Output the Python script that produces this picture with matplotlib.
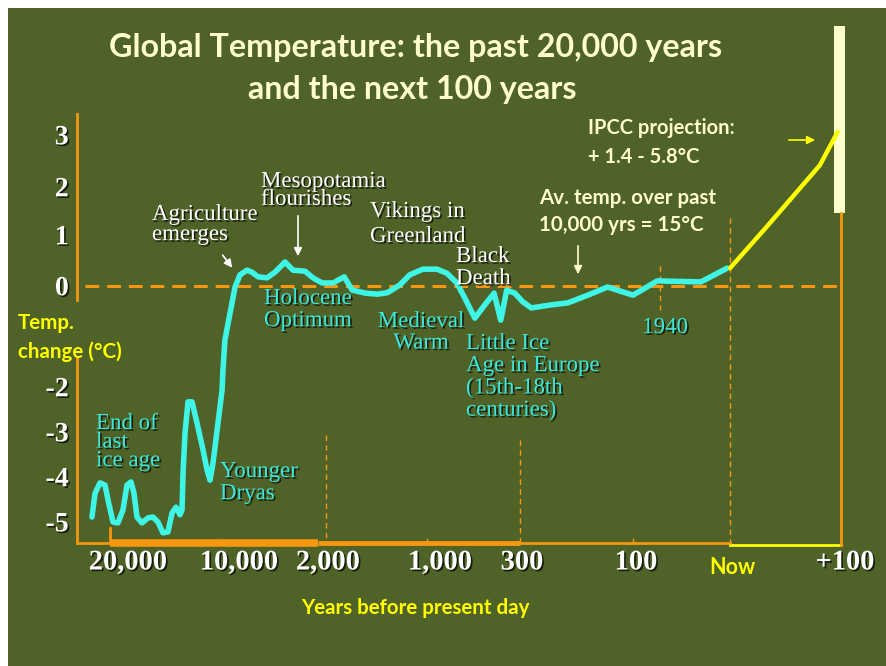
import numpy as np
import matplotlib
matplotlib.use('Agg')
import matplotlib.pyplot as plt
import matplotlib.patheffects as pe
from matplotlib.transforms import Affine2D
from matplotlib.patches import Rectangle

# reconstructed temperature curve: years before present, change in deg C
ice_years = [21640, 21360, 20910, 20450, 20180, 19730, 19280, 18830, 18470, 18110,
             17840, 17570, 17120, 16580, 16130, 15680, 15230, 14780, 14410, 14050,
             13690, 13510, 13420, 13240, 12970, 12610, 12160, 11620, 11260, 10990,
             10720, 10270, 9920, 9850, 9700, 9310, 8930, 8550, 8020, 7640,
             7180, 6500, 5890, 5120, 4510, 3600, 2990, 2300, 1930, 1820,
             1740, 1610, 1490, 1390, 1270, 1170, 1040, 925, 850, 775,
             715, 640, 565, 495, 445, 400, 340, 295, 280, 245,
             215, 180, 145, 100, 75, 30, 3]
ice_temp = [-4.89, -4.36, -4.13, -4.18, -4.51, -5.00, -5.02, -4.73, -4.18, -4.11,
            -4.36, -4.89, -5.02, -4.91, -4.89, -5.00, -5.24, -5.22, -4.80, -4.67,
            -4.84, -4.73, -3.91, -3.02, -2.33, -2.33, -2.80, -3.40, -3.84, -4.07,
            -3.69, -2.80, -2.07, -1.66, -1.06, -0.53, -0.02, 0.22, 0.31, 0.27,
            0.18, 0.16, 0.27, 0.47, 0.31, 0.29, 0.16, 0.06, 0.06, 0.18,
            -0.08, -0.14, -0.16, -0.13, 0.02, 0.22, 0.33, 0.33, 0.25, 0.06,
            -0.24, -0.63, -0.37, -0.14, -0.67, -0.08, -0.14, -0.31, -0.43, -0.37,
            -0.33, -0.18, -0.02, -0.18, 0.10, 0.08, 0.35]

# IPCC projection for the next 100 years (negative = future)
proj_years = [0, -33, -81, -97]
proj_temp = [0.35, 1.17, 2.42, 3.06]
ipcc_range = [1.46, 5.1]

x_ticks = [20000, 10000, 2000, 1000, 300, 100, 0, -100]
x_labels = ['20,000', '10,000', '2,000', '1,000', '300', '100', 'Now', '+100']
y_ticks = [3, 2, 1, 0, -2, -3, -4, -5]

# piecewise axis scales as drawn on the slide
sx_years = np.array([30000, 20000, 10000, 2000, 1000, 300, 100, 0, -100, -140])
sx_px = np.array([0, 110, 221, 326, 427, 520, 633, 730, 841, 886], dtype=float)
sy_temp = np.array([-8.2, -5, -4, -3, -2, -1, 0, 1, 2, 3, 5.6])
sy_px = np.array([666, 522, 477, 432, 387, 337, 286, 235, 187, 135, 0], dtype=float)


def fx(v):
    return np.interp(v, sx_years[::-1], -sx_px[::-1])


def ix(p):
    return np.interp(p, -sx_px[::-1], sx_years[::-1])


def fy(v):
    return np.interp(v, sy_temp, 666 - sy_px)


def iy(p):
    return np.interp(p, 666 - sy_px, sy_temp)


BG = '#4F6228'
ORANGE = '#F7960F'
CYAN = '#3FF5E6'
CYAN_T = '#3CE8DC'
CREAM = '#FFFFCC'
YELLOW = '#FFFF00'

fig = plt.figure(figsize=(8.86, 6.66), dpi=100, facecolor='white')
W, H = 886, 666
px = Affine2D().scale(1 / W, -1 / H).translate(0, 1) + fig.transFigure
fig.patches.append(Rectangle((8, 8), W, H, transform=px, facecolor=BG, edgecolor='none', zorder=-10))

ax = fig.add_axes([0, 0, 1, 1])
ax.set_facecolor('none')
ax.set_xscale('function', functions=(fx, ix))
ax.set_yscale('function', functions=(fy, iy))
ax.set_xlim(30000, -140)
ax.set_ylim(-8.2, 5.6)
ax.axis('off')

shadow = [pe.SimplePatchShadow(offset=(1.2, -1.2), shadow_rgbFace='black', alpha=0.7), pe.Normal()]

# axis frame
ax.plot([23000, 23000], [3.4, -0.27], color=ORANGE, lw=2)
ax.plot([23000, 23000], [-1.4, -5.47], color=ORANGE, lw=2)
ax.plot([23000, 20000], [-5.47, -5.47], color=ORANGE, lw=2)
ax.plot([20000, 2610], [-5.47, -5.47], color=ORANGE, lw=5.5, solid_capstyle='butt')
ax.plot([2610, 300], [-5.47, -5.47], color=ORANGE, lw=3.5, solid_capstyle='butt')
ax.plot([300, 0], [-5.47, -5.47], color=ORANGE, lw=2)
ax.plot([0, -100], [-5.51, -5.51], color=YELLOW, lw=2)
ax.plot([-100, -100], [ipcc_range[0], -5.51], color=ORANGE, lw=2)
ax.plot([20000, 20000], [-5.13, -5.47], color=ORANGE, lw=2)
for t in [10000, 1000, 100]:
    ax.plot([t, t], [-5.38, -5.47], color=ORANGE, lw=1)
dash = dict(color=ORANGE, lw=1, ls=(0, (4, 3)))
ax.plot([2000, 2000], [-3.07, -5.47], **dash)
ax.plot([300, 300], [-3.18, -5.47], **dash)
ax.plot([0, 0], [1.35, -5.51], **dash)
ax.plot([72, 72], [0.39, -0.47], **dash)
ax.plot([22270, -100], [0, 0], color=ORANGE, lw=2.2, ls=(0, (4.5, 2.6)))

# IPCC range bar
ax.add_patch(Rectangle((-94, ipcc_range[0]), -10, ipcc_range[1] - ipcc_range[0],
                       facecolor=CREAM, edgecolor='none'))

# curves
ax.plot(ice_years, ice_temp, color=CYAN, lw=4, solid_joinstyle='round', solid_capstyle='round')
ax.plot(proj_years, proj_temp, color=YELLOW, lw=3.2, solid_joinstyle='round', solid_capstyle='round')

# tick labels
tick_px = [128, 239, 328, 440, 522, 636, 732, 845]
for lab, xp in zip(x_labels, tick_px):
    if lab == 'Now':
        fig.text(xp / W, 1 - 567 / H, lab, ha='center', va='center',
                 color=YELLOW, fontsize=15.5, fontweight='bold', family='Lato')
    else:
        fig.text(xp / W, 1 - 563 / H, lab, ha='center', va='center', color='white',
                 fontsize=20.5, fontweight='bold', family='Liberation Serif', path_effects=shadow)
for t in y_ticks:
    ax.annotate(str(t), xy=(23000, t), xytext=(-6, -2), textcoords='offset points',
                ha='right', va='center', color='white', fontsize=20, fontweight='bold',
                family='Liberation Serif', path_effects=shadow)


def txt(x, y, s, color='white', size=16.5, ha='left', serif=True, ls=0.85, weight='normal'):
    kw = dict(family='Liberation Serif', path_effects=shadow) if serif else dict(family='Lato')
    fig.text(x / W, 1 - y / H, s, ha=ha, va='top', color=color, fontsize=size,
             linespacing=ls, fontweight=weight, **kw)


fig.text(416 / W, 1 - 48 / H, 'Global Temperature: the past 20,000 years', ha='center', va='center',
         color=CREAM, fontsize=23.2, fontweight='bold', family='Lato')
fig.text(412 / W, 1 - 89 / H, 'and the next 100 years', ha='center', va='center',
         color=CREAM, fontsize=23.2, fontweight='bold', family='Lato')

txt(18, 313, 'Temp.', color=YELLOW, size=14.8, serif=False, weight='bold')
txt(18, 341, 'change (°C)', color=YELLOW, size=14.8, serif=False, weight='bold')
fig.text(415 / W, 1 - 608 / H, 'Years before present day', ha='center', va='center',
         color=YELLOW, fontsize=14.8, fontweight='bold', family='Lato')

txt(152, 204, 'Agriculture\nemerges', ls=0.94)
txt(261, 171, 'Mesopotamia\nflourishes', ls=0.8)
txt(370, 201, 'Vikings in\nGreenland', ls=1.25)
txt(456, 246, 'Black\nDeath', ls=1.07)
txt(264, 288, 'Holocene\nOptimum', color=CYAN_T, ls=1.07)
txt(421, 311, 'Medieval\nWarm', color=CYAN_T, ha='center', ls=1.03)
txt(466, 333, 'Little Ice\nAge in Europe\n(15th-18th\ncenturies)', color=CYAN_T, ls=1.07)
txt(96, 413, 'End of\nlast\nice age', color=CYAN_T, ls=0.85)
txt(220, 461, 'Younger\nDryas', color=CYAN_T, ls=1.07)
txt(665, 317, '1940', color=CYAN_T, ha='center')
txt(588, 118, 'IPCC projection:\n+ 1.4 - 5.8°C', color=CREAM, size=14.5, serif=False, weight='bold', ls=1.55)
txt(539, 188, 'Av. temp. over past\n10,000 yrs = 15°C', color=CREAM, size=14.8, serif=False, weight='bold', ls=1.45)

# arrows
def arrow(x0, y0, x1, y1, color):
    ax.annotate('', xy=(ix(-x1), iy(666 - y1)), xytext=(ix(-x0), iy(666 - y0)),
                arrowprops=dict(arrowstyle='-|>', color=color, lw=1.2, mutation_scale=12))


arrow(221, 253, 234, 270, 'white')
arrow(298, 213, 298, 259, 'white')
arrow(578, 243, 578, 277, CREAM)
arrow(786, 140, 818, 140, YELLOW)

fig.savefig('out.png', dpi=100, facecolor='white')
